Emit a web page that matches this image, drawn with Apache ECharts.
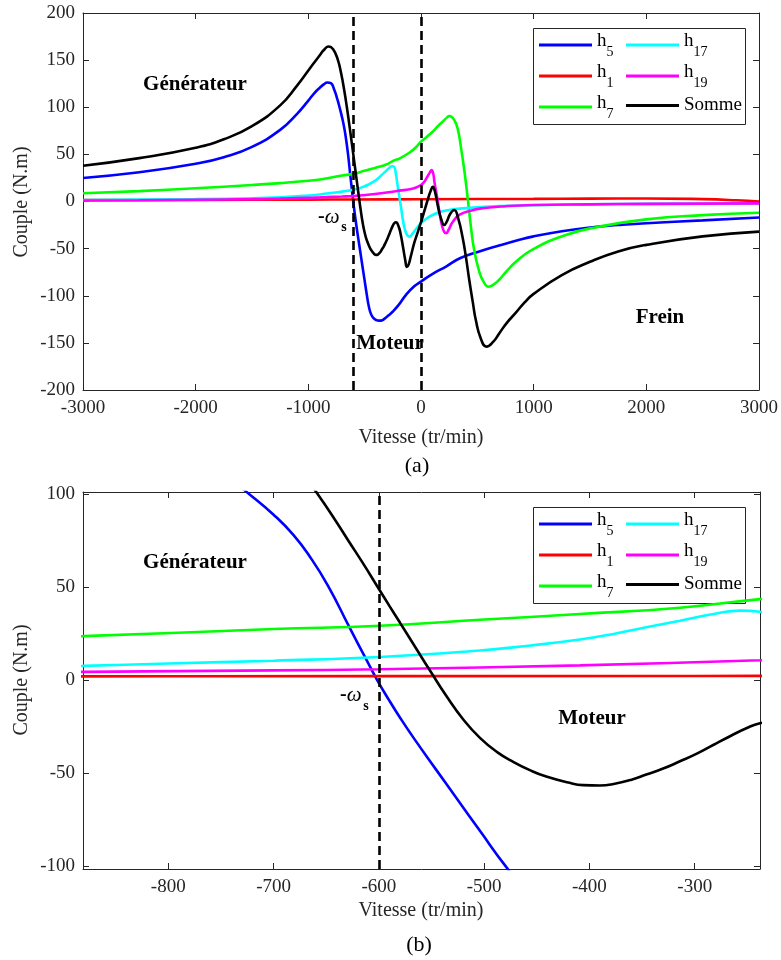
<!DOCTYPE html>
<html><head><meta charset="utf-8">
<script src="https://cdn.jsdelivr.net/npm/echarts@6/dist/echarts.min.js"></script>
<style>html,body{margin:0;padding:0;background:#fff}#c{width:781px;height:960px}</style>
</head><body><div id="c"></div>
<script>
// ---- data ----
const h5Speed = [-3000,-2500,-2000,-1750,-1500,-1250,-1100,-1000,-950,-900,-860,-833,-800,-770,-740,-723,-700,-681,-665,-648,-628,-612,-602,-590,-580,-567,-546,-526,-503,-480,-462,-440,-414,-385,-355,-320,-290,-252,-200,-133,-60,0,100,222,350,517,700,850,1000,1250,1500,1750,2000,2500,3000];
const h5Torque = [25,31,40,47,58,76,93,107,114.5,120.5,124.5,126.3,125.5,118.5,107.5,100,89,78,66,50.5,28.5,11.2,0.5,-11,-20,-31,-47.8,-63.6,-81.8,-99.7,-112,-120.5,-124.5,-126.2,-126.4,-124,-121,-117,-110,-99,-90,-85,-77,-69,-60,-53,-46.5,-41.5,-37,-31.5,-27.5,-25,-23,-20,-17];

const h1Speed = [-3000,-2000,-1000,-600,0,1000,1500,2000,2500,2800,3000];
const h1Torque = [1.5,1.7,2,2.2,2.4,2.8,3.1,3.2,2.5,1.3,0];

const h7Speed = [-3000,-2500,-2000,-1500,-1250,-1000,-881,-700,-599,-504,-409,-314,-238,-192,-100,-50,0,50,103,150,192,230,251,275,295,325,354,384,413,443,472,517,555,599,640,694,760,842,989,1285,1581,2000,2500,3000];
const h7Torque = [8.7,11,14,17.5,19.5,22,23.7,27.5,29.3,32.5,35.6,39,43.6,45.5,52,57,63.5,68.5,74,80,84.7,89,90.7,89.5,86.5,77.6,58,33.4,5,-26.7,-51.5,-74.5,-85,-90.4,-88.5,-83,-74,-64,-51,-35.5,-26.7,-19,-14.5,-12];

const h17Speed = [-3000,-2500,-2000,-1500,-1250,-1000,-881,-800,-700,-599,-504,-456,-409,-377,-346,-314,-282,-257,-238,-225,-210,-192,-175,-160,-140,-120,-100,-75,-50,0,50,103,200,400,700,1000,1500,2000,3000];
const h17Torque = [1.5,2,2.5,3.5,4.5,6.2,7.7,9,10.5,12.5,16,18.7,21.9,24.9,28.5,32,35.6,37.4,36.8,31,19,5,-8,-20,-31,-36,-37.3,-34,-30,-23,-18,-14.3,-10,-7,-4.8,-4,-3,-2.5,-2];

const h19Speed = [-3000,-2500,-2000,-1500,-1250,-1000,-881,-700,-599,-409,-238,-192,-100,-50,0,30,59,80,94,108,120,135,147,165,185,205,222,245,280,340,450,546,750,989,1500,2000,3000];
const h19Torque = [1,1.3,1.8,2.5,3,3.8,4.5,5.3,5.9,8,10.7,11.5,13,14.5,17.5,21,27,31,33.4,30,20,10,1.6,-12,-25,-32,-33.7,-30,-22,-14.3,-9.5,-7.2,-5,-3.7,-3,-2.5,-2];

const sumSpeed = [-3000,-2500,-2000,-1750,-1500,-1250,-1100,-1000,-900,-860,-820,-780,-740,-709,-680,-658,-640,-628,-615,-601,-590,-580,-564,-551,-536,-520,-504,-488,-472,-456,-441,-420,-406,-390,-377,-360,-346,-330,-314,-298,-282,-266,-251,-238,-222,-200,-180,-160,-140,-125,-110,-90,-60,-30,0,30,60,85,105,125,150,180,206,230,260,295,330,369,400,428,460,487,530,581,640,694,760,842,920,1000,1250,1500,1750,2000,2500,3000];
const sumTorque = [38,46,57,66,80,102,123,139,155,161,164.5,161.5,151,136,117,100,84.8,74.2,62.8,50,40,31,16.5,4.8,-8.4,-21,-31,-38.5,-44,-48.5,-51.8,-55,-56.4,-56.6,-55.8,-53.5,-50.7,-47.5,-43.6,-39.5,-34.7,-30,-25.8,-23.1,-22,-26,-35,-48,-62,-69.5,-67,-58,-44,-33,-22,-10,2,11,15.5,10,-5,-19,-25,-21,-13,-9,-18,-38,-60,-83,-107,-126,-145,-154,-149,-140,-129,-118,-107,-98,-78,-64,-53,-46,-37,-32];

const seriesNames = ['h5','h1','h7','h17','h19','Somme'];
const seriesColors = ['#0000ff','#ff0000','#00ff00','#00ffff','#ff00ff','#000000'];
const seriesSpeeds = [h5Speed,h1Speed,h7Speed,h17Speed,h19Speed,sumSpeed];
const seriesTorques = [h5Torque,h1Torque,h7Torque,h17Torque,h19Torque,sumTorque];

const dashedA = [-600, 0];
const dashedB = [-600];
const xTicksB = [-800,-700,-600,-500,-400,-300];
const yTicksB = [-100,-50,0,50,100];

// ---- chart ----
const FONT = '"Liberation Serif","Times New Roman",serif';
const AXC = '#262626';
const chart = echarts.init(document.getElementById('c'), null, {renderer:'canvas'});

const gridA = {left:83, top:13, width:677, height:377};
const gridB = {left:83, top:492, width:677, height:377};

function xAx(gi, pos, labels, ext) {
  const o = {type:'value', gridIndex:gi, position:pos, min:ext.min, max:ext.max,
    axisLine:{show:true, onZero:false, lineStyle:{color:AXC, width:1}},
    axisTick:{show:true, inside:true, length:6, lineStyle:{color:AXC}},
    axisLabel:{show:labels, margin:9, color:AXC, fontSize:19, fontFamily:FONT,
      formatter: v => String(v)},
    splitLine:{show:false}};
  if (ext.interval) o.interval = ext.interval;
  if (ext.ticks) { o.axisTick.customValues = ext.ticks; o.axisLabel.customValues = ext.ticks; }
  return o;
}
function yAx(gi, pos, labels, ext) {
  const o = xAx(gi, pos, labels, ext);
  o.axisLabel.margin = 8;
  return o;
}
const extXA = {min:-3000, max:3000, interval:1000};
const extYA = {min:-200, max:200, interval:50};
const extXB = {min:-881, max:-238, ticks:xTicksB};
const extYB = {min:-101.5, max:101.2, ticks:yTicksB};

const series = [];
[0,1].forEach(gi => {
  seriesNames.forEach((n,k) => {
    series.push({
      name:n, type:'line', xAxisIndex:gi*2, yAxisIndex:gi*2,
      data: seriesSpeeds[k].map((v,j)=>[v, seriesTorques[k][j]]),
      showSymbol:false, symbol:'none', smooth:0.5,
      color:seriesColors[k], lineStyle:{color:seriesColors[k], width:2.6},
      clip:true, silent:true, animation:false
    });
  });
  series.push({
    name:'dash'+gi, type:'line', xAxisIndex:gi*2, yAxisIndex:gi*2, data:[], silent:true,
    markLine:{symbol:['none','none'], silent:true, animation:false, label:{show:false},
      lineStyle:{color:'#000', width:2.6, type:[9,5]},
      data:(gi===0?dashedA:dashedB).map(v=>({xAxis:v}))}
  });
});

const legendRich = {
  b:{fontSize:19, lineHeight:22, padding:[0,0,7,0], fontFamily:FONT, color:'#000'},
  s:{fontSize:14, lineHeight:14, padding:[15,0,0,0], fontFamily:FONT, color:'#000'},
  m:{fontSize:19, lineHeight:22, padding:[3.5,0,3.5,0], fontFamily:FONT, color:'#000'}
};
function legend(left, top, data) {
  return {orient:'vertical', left:left, top:top, padding:0, itemGap:2, itemWidth:53, itemHeight:3,
    icon:'rect', selectedMode:false, data:data,
    formatter: n => n==='Somme' ? '{m|Somme}' : '{b|h}{s|'+n.slice(1)+'}',
    textStyle:{fontFamily:FONT, fontSize:19, color:'#000', rich:legendRich}};
}

function txt(x, y, text, font, extra, color) {
  return Object.assign({type:'text', x:x, y:y, z:10, silent:true,
    style:{text:text, font:font, fill:color||'#000', align:'center', verticalAlign:'middle'}}, extra||{});
}
const bold = 'bold 21px ' + FONT;
const omegaRich = {d:{font:'bold 20px '+FONT, fill:'#000'}, w:{font:'italic 21px '+FONT, fill:'#000'}};
const graphics = [
  {type:'rect', z:3, silent:true, shape:{x:533.5, y:28.5, width:212, height:96}, style:{fill:'#fff', stroke:AXC, lineWidth:1}},
  {type:'rect', z:3, silent:true, shape:{x:533.5, y:507.5, width:212, height:96}, style:{fill:'#fff', stroke:AXC, lineWidth:1}},
  txt(195, 85, 'Générateur', bold),
  txt(390, 344, 'Moteur', bold),
  txt(660, 318, 'Frein', bold),
  txt(195, 563, 'Générateur', bold),
  txt(592, 719, 'Moteur', bold),
  {type:'text', x:318, y:217, z:10, silent:true, style:{text:'{d|-}{w|ω}', align:'left', verticalAlign:'middle', rich:omegaRich}},
  txt(344, 227, 's', 'bold 14px '+FONT),
  {type:'text', x:340, y:695, z:10, silent:true, style:{text:'{d|-}{w|ω}', align:'left', verticalAlign:'middle', rich:omegaRich}},
  txt(366, 706, 's', 'bold 14px '+FONT),
  txt(421, 438, 'Vitesse (tr/min)', '20px '+FONT, null, AXC),
  txt(421, 911, 'Vitesse (tr/min)', '20px '+FONT, null, AXC),
  txt(22, 202, 'Couple (N.m)', '20px '+FONT, {rotation:Math.PI/2}, AXC),
  txt(22, 680, 'Couple (N.m)', '20px '+FONT, {rotation:Math.PI/2}, AXC),
  txt(417, 466, '(a)', '22px '+FONT),
  txt(419, 945, '(b)', '22px '+FONT)
];

chart.setOption({
  animation:false,
  backgroundColor:'#fff',
  grid:[gridA, gridB],
  xAxis:[xAx(0,'bottom',true,extXA), xAx(0,'top',false,extXA), xAx(1,'bottom',true,extXB), xAx(1,'top',false,extXB)],
  yAxis:[yAx(0,'left',true,extYA), yAx(0,'right',false,extYA), yAx(1,'left',true,extYB), yAx(1,'right',false,extYB)],
  legend:[legend(539,30.5,['h5','h1','h7']), legend(626,30.5,['h17','h19','Somme']),
          legend(539,509.5,['h5','h1','h7']), legend(626,509.5,['h17','h19','Somme'])],
  series:series,
  graphic:{elements:graphics}
});
</script></body></html>
